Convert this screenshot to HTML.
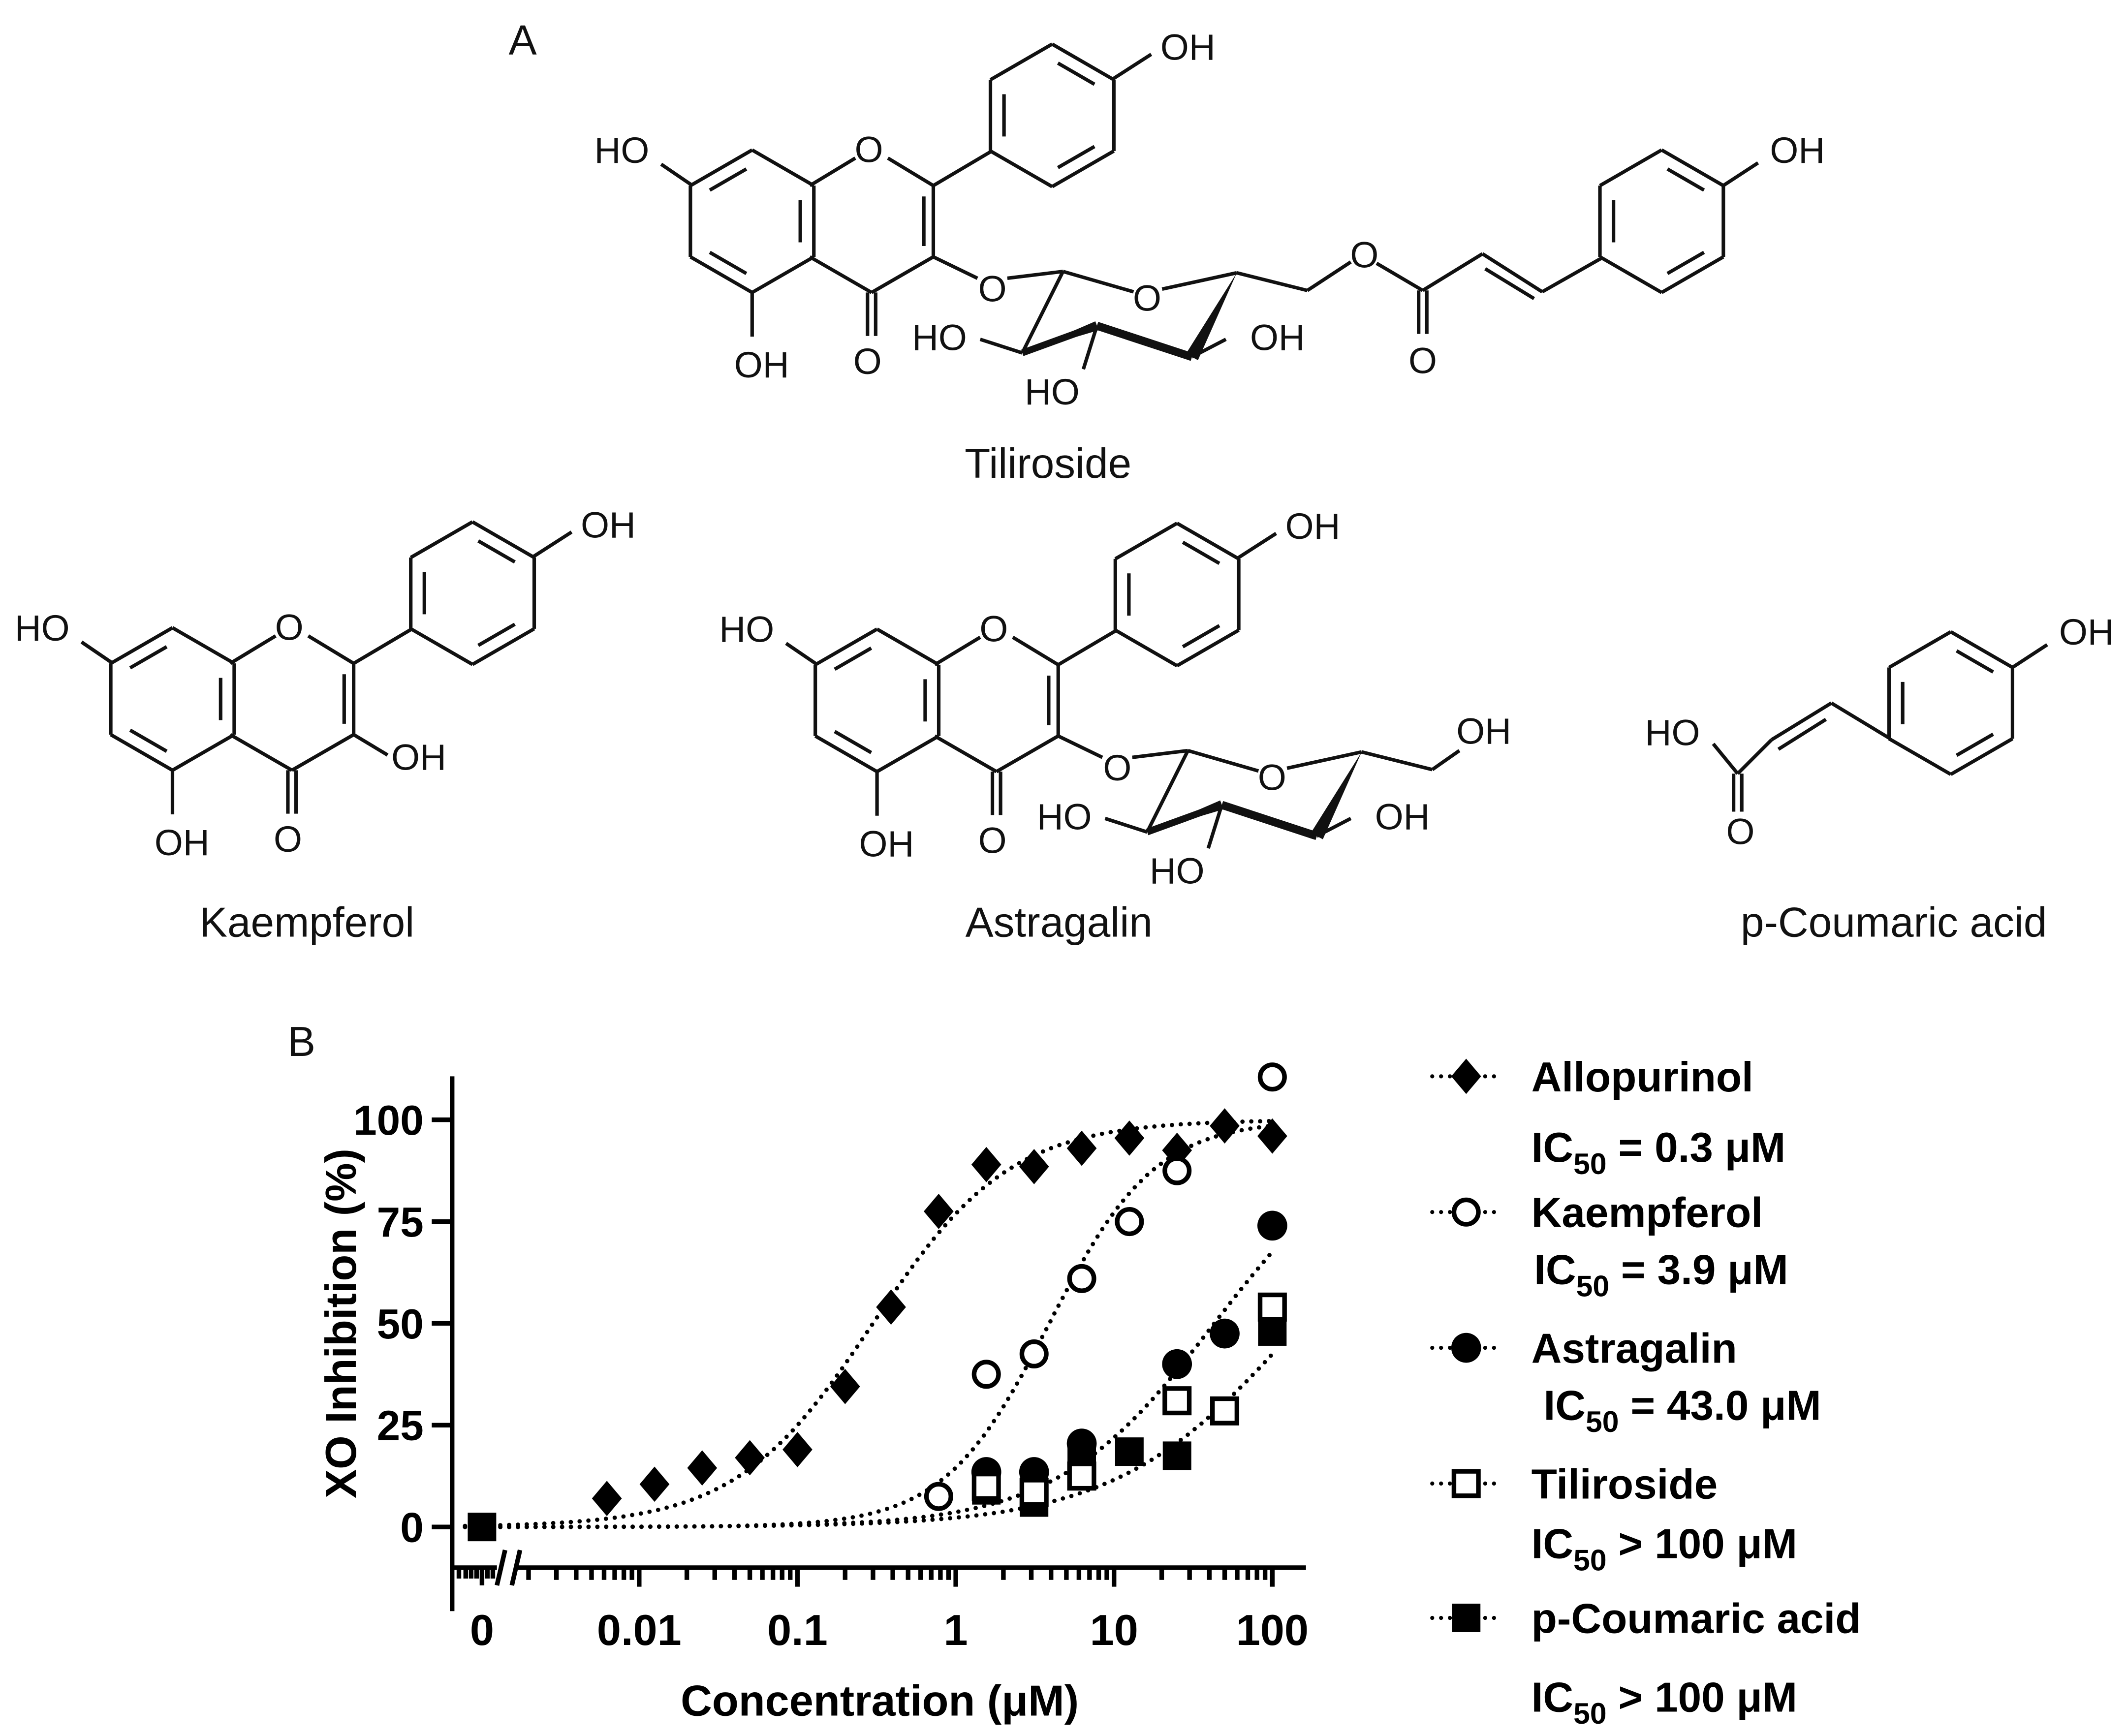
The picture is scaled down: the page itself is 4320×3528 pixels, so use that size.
<!DOCTYPE html>
<html><head><meta charset="utf-8"><style>
html,body{margin:0;padding:0;background:#fff}
svg{display:block}
.ch{font-family:"Liberation Sans",sans-serif;font-size:27px;fill:#111}
.lbl{font-family:"Liberation Sans",sans-serif;font-size:31px;fill:#111}
.b{font-family:"Liberation Sans",sans-serif;font-weight:bold;fill:#000}
</style></head><body>
<svg id="fig" width="4320" height="3528" viewBox="0 0 1566 1279" xmlns="http://www.w3.org/2000/svg">
<rect width="1566" height="1279" fill="#fff"/>
<g id="chem" stroke="#111" stroke-width="2.6" fill="none"></g>
<g id="chemtext"></g>
<g id="chart"></g>
</svg>
<script>
// ---- chart data ----
const seriesNames = ["Allopurinol","Kaempferol","Astragalin","Tiliroside","p-Coumaric acid"];
const allopurinolX = [0.00625,0.0125,0.025,0.05,0.1,0.2,0.39,0.78,1.56,3.125,6.25,12.5,25,50,100];
const allopurinolY = [7,10.5,14.5,17,19,34.5,54,77.5,89,88.5,93,95.5,92.5,98.5,96];
const kaempferolX = [0.78,1.56,3.125,6.25,12.5,25,100];
const kaempferolY = [7.5,37.5,42.5,61,75,87.5,110.5];
const astragalinX = [1.56,3.125,6.25,25,50,100];
const astragalinY = [13.5,13.5,20.5,40,47.5,74];
const tilirosideX = [1.56,3.125,6.25,25,50,100];
const tilirosideY = [10,8.5,12.5,31,28.5,54];
const coumaricX = [1.56,3.125,6.25,12.5,25,100];
const coumaricY = [9,6,17,18.5,17.5,48];
const coumaricZeroY = [0];
const fitIC50 = [0.3,3.9,43,150];
const fitHill = [1.0,1.3,0.87,0.75];
const yTicks = [0,25,50,75,100];
const xTickVals = [0.01,0.1,1,10,100];
const xTickLabels = ["0.01","0.1","1","10","100"];
const legendIC50 = ["0.3 μM","3.9 μM","43.0 μM","100 μM","100 μM"];
const legendOp = ["=","=","=",">",">"];

const NS="http://www.w3.org/2000/svg";
function mk(tag,attrs,parent){const e=document.createElementNS(NS,tag);for(const k in attrs)e.setAttribute(k,attrs[k]);parent.appendChild(e);return e;}

// ---- chemistry drawing ----
const chem=document.getElementById('chem'), ct=document.getElementById('chemtext');
function line(x1,y1,x2,y2,w){const l=mk('line',{x1,y1,x2,y2},chem);if(w)l.setAttribute('stroke-width',w);}
function hex(cx,cy,r,dbl){const hw=r*0.866;const p=[[cx,cy-r],[cx+hw,cy-r/2],[cx+hw,cy+r/2],[cx,cy+r],[cx-hw,cy+r/2],[cx-hw,cy-r/2]];
 for(let i=0;i<6;i++){const a=p[i],b=p[(i+1)%6];line(a[0],a[1],b[0],b[1]);}
 (dbl||[]).forEach(i=>{const a=p[i],b=p[(i+1)%6];const k=0.78;const ax=cx+(a[0]-cx)*k,ay=cy+(a[1]-cy)*k,bx=cx+(b[0]-cx)*k,by=cy+(b[1]-cy)*k;const s=0.12;line(ax+(bx-ax)*s,ay+(by-ay)*s,bx-(bx-ax)*s,by-(by-ay)*s);});return p;}
function txt(s,x,y,cls,name){const t=mk('text',{x,y,'text-anchor':'middle',class:cls},ct);t.textContent=s;return t;}
function wedge(x1,y1,x2,y2,w){const dx=x2-x1,dy=y2-y1,L=Math.hypot(dx,dy),nx=-dy/L*w,ny=dx/L*w;const p=mk('polygon',{points:`${x1},${y1} ${x2+nx},${y2+ny} ${x2-nx},${y2-ny}`,fill:'#111',stroke:'none'},chem);}

function flavone(dx,dy,threeOH){
 const r=52.5;
 hex(554+dx,163+dy,r,[1,3,5]);
 const cx=642+dx,cy=163+dy,hw=r*0.866;
 line(cx-hw,cy-r/2,cx-12,cy-r+6);line(cx+12,cy-r+6,cx+hw,cy-r/2);
 line(cx+hw,cy-r/2,cx+hw,cy+r/2);line(cx+hw-7,cy-r/2+8,cx+hw-7,cy+r/2-8);
 line(cx+hw,cy+r/2,cx,cy+r);line(cx,cy+r,cx-hw,cy+r/2);
 txt('O',cx-2,cy-r+9,'ch');
 line(cx-3,cy+r,cx-3,cy+r+32);line(cx+3,cy+r,cx+3,cy+r+32);
 txt('O',cx-3,cy+r+60,'ch');
 line(cx+hw,cy-r/2,731+dx,111+dy);
 hex(775+dx,85+dy,r,[0,2,4]);
 line(820+dx,58+dy,848+dx,40+dy);
 txt('OH',875+dx,44+dy,'ch');
 line(509+dx,136+dy,487+dx,121+dy);txt('HO',458+dx,120+dy,'ch');
 line(554+dx,215+dy,554+dx,248+dy);txt('OH',561+dx,278+dy,'ch');
 if(threeOH){line(cx+hw,cy+r/2,cx+hw+25,cy+r/2+15);txt('OH',cx+hw+48,cy+r/2+26,'ch');}
 else{line(cx+hw,cy+r/2,720+dx,205+dy);txt('O',731+dx,222+dy,'ch');}
}
function sugar(dx,dy){
 line(742+dx,205+dy,783+dx,200+dy);
 line(783+dx,200+dy,835+dx,215+dy);txt('O',845+dx,229+dy,'ch');
 line(856+dx,213+dy,911+dx,201+dy);
 line(783+dx,200+dy,753+dx,260+dy);
 wedge(753+dx,260+dy,808+dx,240+dy,3.5);line(753+dx,260+dy,808+dx,240+dy,5);
 line(808+dx,240+dy,878+dx,263+dy,6);
 wedge(911+dx,201+dy,878+dx,263+dy,5);
 line(753+dx,260+dy,722+dx,250+dy);txt('HO',692+dx,258+dy,'ch');
 line(808+dx,240+dy,798+dx,272+dy);txt('HO',775+dx,298+dy,'ch');
 line(878+dx,263+dy,903+dx,250+dy);txt('OH',941+dx,258+dy,'ch');
}
flavone(0,0,false);sugar(0,0);
line(911,201,963,214);line(963,214,995,193);txt('O',1005,197,'ch');
line(1014,194,1048,214);line(1045,214,1045,246);line(1051,214,1051,246);txt('O',1048,275,'ch');
line(1048,214,1092,187);line(1092,187,1136,215);line(1094,198,1130,220);line(1136,215,1180,190);
hex(1224,163,52.5,[0,2,4]);line(1269,137,1295,120);txt('OH',1324,120,'ch');
txt('Tiliroside',772,352,'lbl','compound-name');
txt('A',385,40,'lbl','panel-label-a').setAttribute('font-size','40');
flavone(-427,352,true);txt('Kaempferol',226,690,'lbl','compound-name');
flavone(92,353,false);sugar(92,353);
line(1003,554,1055,567);line(1055,567,1075,553);txt('OH',1093,548,'ch');
txt('Astragalin',780,690,'lbl','compound-name');
// p-Coumaric acid
hex(1437,518,52.5,[0,2,4]);line(1482,492,1508,475);txt('OH',1537,475,'ch');
line(1392,544,1349,518);line(1349,518,1305,545);line(1345,530,1310,552);
line(1305,545,1280,570);line(1277,570,1277,598);line(1283,570,1283,598);txt('O',1282,622,'ch');
line(1280,570,1262,548);txt('HO',1232,549,'ch');
txt('p-Coumaric acid',1395,690,'lbl','compound-name');

// ---- chart ----
const ch=document.getElementById('chart');
const X0=704, DEC=116.6, ZEROX=355;
function xs(v){return X0+Math.log10(v)*DEC;}
function ys(v){return 1125-v*3;}
const ax=mk('g',{stroke:'#000','stroke-width':3.4,fill:'none'},ch);

mk('line',{x1:333,y1:793,x2:333,y2:1187},ax);
mk('line',{x1:333,y1:1155,x2:366,y2:1155},ax);
mk('line',{x1:381,y1:1155,x2:962,y2:1155},ax);
mk('line',{x1:366,y1:1168,x2:372,y2:1142},ax);mk('line',{x1:377,y1:1168,x2:383,y2:1142},ax);
yTicks.forEach(v=>{mk('line',{x1:318,y1:ys(v),x2:333,y2:ys(v)},ax);
 const t=mk('text',{x:312,y:ys(v)+11,'text-anchor':'end','font-size':31,class:'b',stroke:'none'},ch);t.textContent=v;
 });
for(let d=-3;d<2;d++)for(let m=2;m<10;m++){const x=xs(m*Math.pow(10,d));if(x>386)mk('line',{x1:x,y1:1155,x2:x,y2:1164},ax);}
[338,343,347,351,359,363].forEach(x=>mk('line',{x1:x,y1:1155,x2:x,y2:1163},ax));
mk('line',{x1:ZEROX,y1:1155,x2:ZEROX,y2:1168},ax);
const zt=mk('text',{x:ZEROX,y:1212,'text-anchor':'middle','font-size':32,class:'b'},ch);zt.textContent='0';

xTickVals.forEach((v,i)=>{mk('line',{x1:xs(v),y1:1155,x2:xs(v),y2:1169},ax);
 const t=mk('text',{x:xs(v),y:1212,'text-anchor':'middle','font-size':32,class:'b'},ch);t.textContent=xTickLabels[i];
 });
const xt=mk('text',{x:648,y:1264,'text-anchor':'middle','font-size':32,class:'b'},ch);xt.textContent='Concentration (μM)';

const yt=mk('text',{x:0,y:0,'text-anchor':'middle','font-size':32,class:'b',transform:'translate(262,975) rotate(-90)'},ch);yt.textContent='XO Inhibition (%)';

const bt=mk('text',{x:222,y:778,'text-anchor':'middle','font-size':40,class:'lbl'},ch);bt.textContent='B';


const curveNames=['allopurinol-fit','kaempferol-fit','astragalin-fit','lower-fit'];
fitIC50.forEach((ic,i)=>{let d='';for(let k=0;k<=200;k++){const lv=-3.1+k*(5.1/200);const c=Math.pow(10,lv);const y=100/(1+Math.pow(ic/c,fitHill[i]));d+=(k?'L':'M')+xs(c).toFixed(1)+','+ys(y).toFixed(1);}
 const p=mk('path',{d,fill:'none',stroke:'#000','stroke-width':3.2,'stroke-dasharray':'0 6.5','stroke-linecap':'round'},ch);
 });

function marker(type,x,y,parent,s){s=s||1;let e;
 if(type==='diamond')e=mk('polygon',{points:`${x},${y-13*s} ${x+11*s},${y} ${x},${y+13*s} ${x-11*s},${y}`,fill:'#000'},parent);
 else if(type==='ocircle')e=mk('circle',{cx:x,cy:y,r:9*s,fill:'#fff',stroke:'#000','stroke-width':3.4},parent);
 else if(type==='fcircle')e=mk('circle',{cx:x,cy:y,r:11*s,fill:'#000'},parent);
 else if(type==='osquare')e=mk('rect',{x:x-9*s,y:y-9*s,width:18*s,height:18*s,fill:'#fff',stroke:'#000','stroke-width':3.4},parent);
 else e=mk('rect',{x:x-10.5*s,y:y-10.5*s,width:21*s,height:21*s,fill:'#000'},parent);
 return e;}
const types=['diamond','ocircle','fcircle','osquare','fsquare'];
const XS=[allopurinolX,kaempferolX,astragalinX,tilirosideX,coumaricX];
const YS=[allopurinolY,kaempferolY,astragalinY,tilirosideY,coumaricY];
const order=[0,1,2,4,3];
order.forEach(i=>{const g=mk('g',{},ch);
 XS[i].forEach((v,j)=>{const m=marker(types[i],xs(v),ys(YS[i][j]),g);});});
coumaricZeroY.forEach(v=>{const m=marker('fsquare',ZEROX,ys(v),ch);});

const legY=[793,893,993,1093,1192], icY=[845,935,1035,1137,1250], icX=[1128,1130,1137,1128,1128];
seriesNames.forEach((n,i)=>{const g=mk('g',{},ch);
 mk('line',{x1:1055,y1:legY[i],x2:1106,y2:legY[i],stroke:'#000','stroke-width':3,'stroke-dasharray':'0 6.5','stroke-linecap':'round'},g);
 marker(types[i],1080,legY[i],g);
 const t=mk('text',{x:1128,y:legY[i]+11,'font-size':31,class:'b'},g);t.textContent=n;
 const t2=mk('text',{x:icX[i],y:icY[i]+11,'font-size':31,class:'b'},g);
 t2.innerHTML='IC<tspan font-size="22" dy="9">50</tspan><tspan dy="-9"> '+legendOp[i]+'  '+legendIC50[i]+'</tspan>';});
</script>
</body></html>
